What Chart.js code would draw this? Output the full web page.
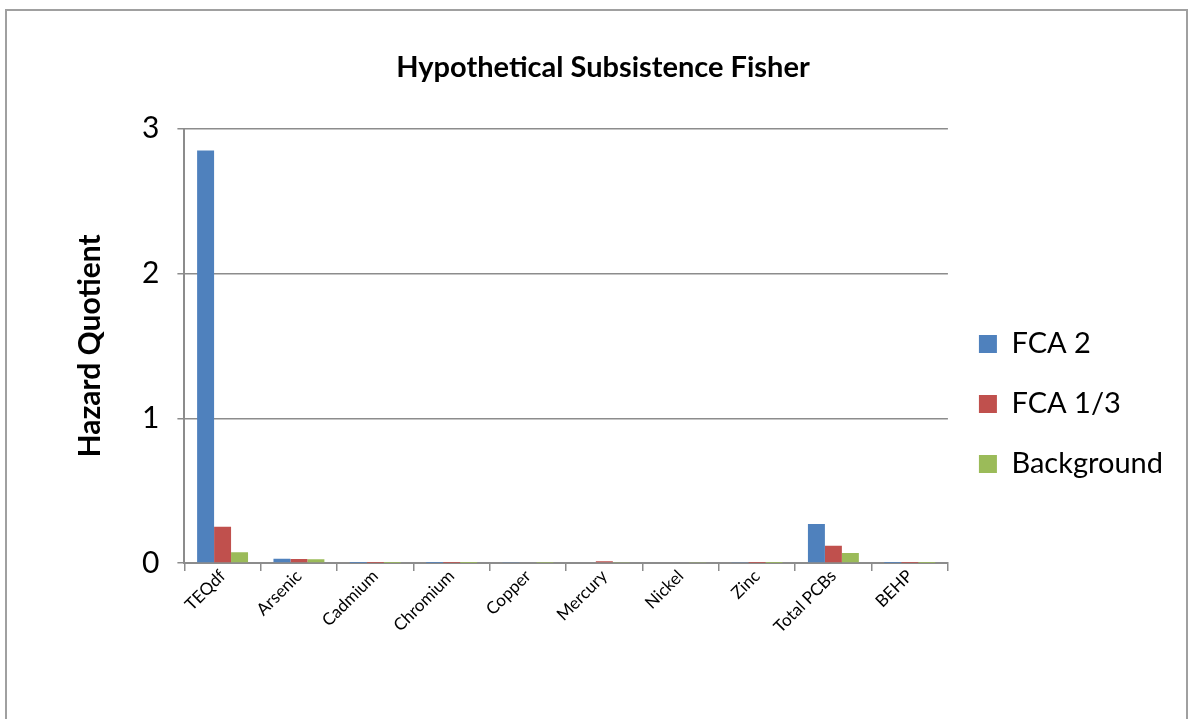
<!DOCTYPE html>
<html>
<head>
<meta charset="utf-8">
<script src="https://cdn.jsdelivr.net/npm/chart.js@4.4.0/dist/chart.umd.min.js"></script>
<style>
    html, body { margin: 0; padding: 0; background: #fff; overflow: hidden; }
    #frame {
        position: absolute; left: 5px; top: 9px; width: 1183px; height: 800px;
        border: 2px solid #a0a0a0; box-sizing: border-box;
    }
    #wrap { position: absolute; left: 0; top: 0; width: 1193px; height: 719px; }
</style>
</head>
<body>
<div id="frame"></div>
<div id="wrap"><canvas id="hqChart"></canvas></div>
<script>
const categories = ['TEQdf', 'Arsenic', 'Cadmium', 'Chromium', 'Copper', 'Mercury', 'Nickel', 'Zinc', 'Total PCBs', 'BEHP'];
const fca2 = [2.85, 0.03, 0.001, 0.001, 0.007, 0.006, 0.005, 0.004, 0.27, 0.0005];
const fca13 = [0.25, 0.028, 0.001, 0.001, 0.005, 0.012, 0.005, 0.001, 0.12, 0.0005];
const background = [0.075, 0.027, 0.001, 0.001, 0.002, 0.004, 0.004, 0.001, 0.07, 0.0005];
const yTicks = [0, 1, 2, 3];

const FONT = 'Lato, "Open Sans", sans-serif';
const axisGray = '#8c8c8c';

// the legend sits lower than chart.js would centre it
const legendShift = {
    id: 'legendShift',
    afterLayout(chart) {
        const lg = chart.legend;
        if (!lg) return;
        const h = lg.bottom - lg.top;
        lg.top = 404 - h / 2;
        lg.bottom = lg.top + h;
    }
};

const ctx = document.getElementById('hqChart').getContext('2d');
new Chart(ctx, {
    type: 'bar',
    data: {
        labels: categories,
        datasets: [
            { label: 'FCA 2', data: fca2, backgroundColor: '#4F81BD' },
            { label: 'FCA 1/3', data: fca13, backgroundColor: '#C0504D' },
            { label: 'Background', data: background, backgroundColor: '#9BBB59' }
        ]
    },
    plugins: [legendShift],
    options: {
        responsive: true,
        maintainAspectRatio: false,
        animation: false,
        categoryPercentage: 0.667,
        barPercentage: 1.0,
        layout: { padding: { left: 33, right: 20, top: 0, bottom: 87 } },
        plugins: {
            title: {
                display: true,
                text: 'Hypothetical Subsistence Fisher',
                color: '#000',
                font: { family: FONT, size: 29, weight: 'bold' },
                padding: { top: 50, bottom: 44 }
            },
            legend: {
                position: 'right',
                labels: {
                    color: '#000',
                    font: { family: FONT, size: 29 },
                    boxWidth: 18,
                    boxHeight: 18,
                    padding: 31
                }
            },
            tooltip: { enabled: false }
        },
        scales: {
            x: {
                grid: {
                    drawOnChartArea: false,
                    drawTicks: true,
                    tickLength: 8,
                    color: axisGray,
                    lineWidth: 1.5
                },
                border: { color: axisGray, width: 2 },
                ticks: {
                    color: '#000',
                    font: { family: FONT, size: 17 },
                    maxRotation: 45,
                    minRotation: 45,
                    padding: -5
                }
            },
            y: {
                min: 0,
                max: 3,
                afterBuildTicks: function (scale) {
                    scale.ticks = yTicks.map(v => ({ value: v }));
                },
                grid: {
                    color: axisGray,
                    lineWidth: 1.5,
                    tickLength: 7
                },
                border: { color: axisGray, width: 2 },
                ticks: {
                    color: '#000',
                    font: { family: FONT, size: 30 },
                    padding: 18
                },
                title: {
                    display: true,
                    text: 'Hazard Quotient',
                    color: '#000',
                    font: { family: FONT, size: 30, weight: 'bold' },
                    padding: { top: 39, bottom: 16 }
                }
            }
        }
    }
});
</script>
</body>
</html>
